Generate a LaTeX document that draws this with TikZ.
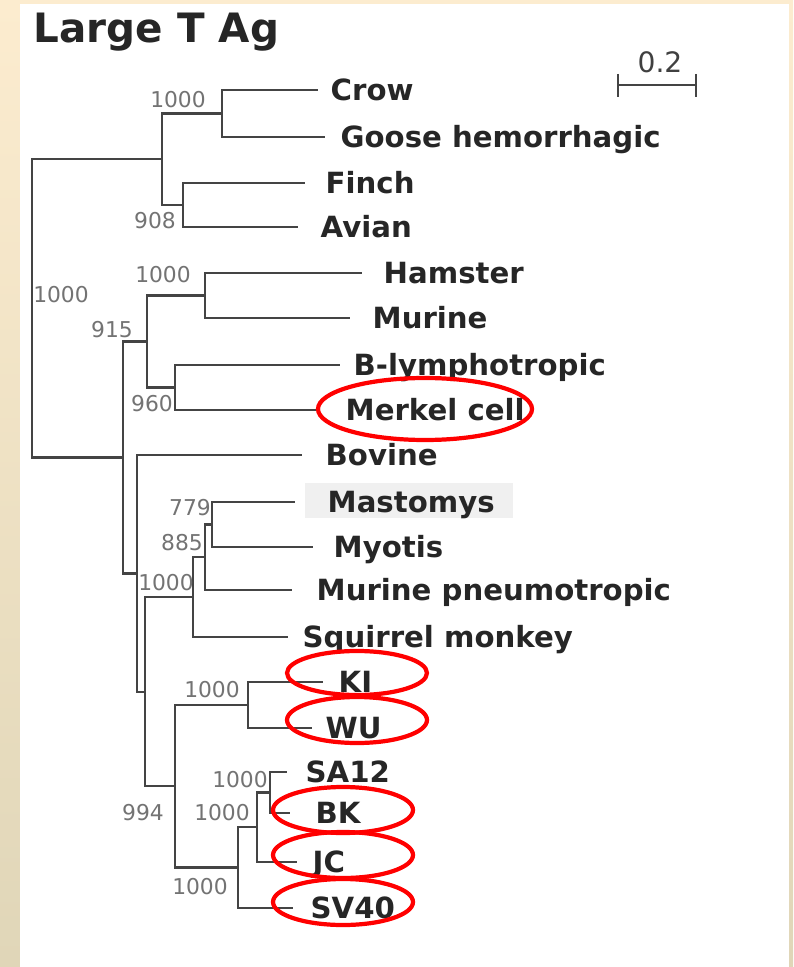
\documentclass[tikz,border=0pt]{standalone}
\usepackage{fontspec}
\setmainfont{DejaVu Sans}
\usepackage{xcolor}
\usepackage{tikz}

\definecolor{bgtop}{RGB}{252,236,207}
\definecolor{bgbot}{RGB}{224,214,184}
\definecolor{branchgray}{RGB}{68,68,68}

\begin{document}
\begin{tikzpicture}[x=0.01cm,y=-0.01cm,
		branch/.style={draw=branchgray,line width=0.65pt},
		taxon/.style={anchor=west,inner xsep={#1*0.1mm},inner ysep=0pt,text height=6pt,text depth=0pt,
			font=\bfseries\fontsize{8.3}{10}\selectfont,text=black!85},
		taxon/.default=15,
		boot/.style={inner sep=0pt,font=\fontsize{6.2}{7}\selectfont,text=black!55},
		ring/.style={draw=red,line width=1.2pt}]
	
	\useasboundingbox (0,0) rectangle (793,967);
	
	% Hintergrund
	\shade[top color=bgtop,bottom color=bgbot] (0,0) rectangle (793,967);
	\fill[white] (20,4) rectangle (789,967);
	\fill[black!6] (305,483) rectangle (513,518);
	
	% Titel und Massstab
	\node[anchor=west,inner sep=0pt,text height=8.4pt,text depth=0pt,
		font=\bfseries\fontsize{11.5}{13}\selectfont,text=black!85] (title) at (33,28) {Large T Ag};
	\coordinate (sbl) at (618,85);
	\coordinate (sbr) at (696,85);
	\draw[branch] (sbl) -- (sbr);
	\draw[branch] (sbl) ++(0,-11) -- ++(0,23);
	\draw[branch] (sbr) ++(0,-11) -- ++(0,23);
	\node[inner sep=0pt,font=\fontsize{8}{9}\selectfont,text=black!75] (scale) at (660,62) {0.2};
	
	% Blaetter
	\node[taxon=12] (crow) at (318,90) {Crow};
	\node[taxon=15] (goose) at (325,137) {Goose hemorrhagic};
	\node[taxon=20] (finch) at (305,183) {Finch};
	\node[taxon=22] (avian) at (298,227) {Avian};
	\node[taxon=21] (hamster) at (362,273) {Hamster};
	\node[taxon=22] (murine) at (350,318) {Murine};
	\node[taxon=13] (blym) at (340,365) {B-lymphotropic};
	\node[taxon=25] (merkel) at (320,410) {Merkel cell};
	\node[taxon=23] (bovine) at (302,455) {Bovine};
	\node[taxon=32] (mastomys) at (295,502) {Mastomys};
	\node[taxon=20] (myotis) at (313,547) {Myotis};
	\node[taxon=24] (murpn) at (292,590) {Murine pneumotropic};
	\node[taxon=14] (squirrel) at (288,637) {Squirrel monkey};
	\node[taxon=15] (ki) at (323,682) {KI};
	\node[taxon=13] (wu) at (312,728) {WU};
	\node[taxon=18] (sa12) at (287,772) {SA12};
	\node[taxon=25] (bk) at (290,813) {BK};
	\node[taxon=15] (jc) at (297,862) {JC};
	\node[taxon=17] (sv40) at (293,908) {SV40};
	
	% innere Knoten
	\coordinate (root) at (32,308.3);
	\coordinate (av) at (162,159.3);
	\coordinate (cg) at (222,113.5);
	\coordinate (fa) at (183,205);
	\coordinate (p915) at (123,457.4);
	\coordinate (hm) at (147,341.5);
	\coordinate (ham) at (205,295.5);
	\coordinate (bm) at (175,387.5);
	\coordinate (lo) at (137,573.4);
	\coordinate (b2) at (145,691.7);
	\coordinate (c1000) at (193,597.1);
	\coordinate (c885) at (205,557.3);
	\coordinate (c779) at (212,524.5);
	\coordinate (d994) at (175,786.3);
	\coordinate (kw) at (248,705);
	\coordinate (e1000) at (238,867.6);
	\coordinate (f1000) at (257,827.3);
	\coordinate (g1000) at (270,792.5);
	
	% Aeste
	\draw[branch] (root) |- (av) (root) |- (p915);
	\draw[branch] (av) |- (cg) (av) |- (fa);
	\draw[branch] (cg) |- (crow) (cg) |- (goose);
	\draw[branch] (fa) |- (finch) (fa) |- (avian);
	\draw[branch] (p915) |- (hm) (p915) |- (lo);
	\draw[branch] (hm) |- (ham) (hm) |- (bm);
	\draw[branch] (ham) |- (hamster) (ham) |- (murine);
	\draw[branch] (bm) |- (blym) (bm) |- (merkel);
	\draw[branch] (lo) |- (bovine) (lo) |- (b2);
	\draw[branch] (b2) |- (c1000) (b2) |- (d994);
	\draw[branch] (c1000) |- (c885) (c1000) |- (squirrel);
	\draw[branch] (c885) |- (c779) (c885) |- (murpn);
	\draw[branch] (c779) |- (mastomys) (c779) |- (myotis);
	\draw[branch] (d994) |- (kw) (d994) |- (e1000);
	\draw[branch] (kw) |- (ki) (kw) |- (wu);
	\draw[branch] (e1000) |- (f1000) (e1000) |- (sv40);
	\draw[branch] (f1000) |- (g1000) (f1000) |- (jc);
	\draw[branch] (g1000) |- (sa12) (g1000) |- (bk);
	
	% Bootstrap-Werte
	\node[boot] (bs1) at (178,100) {1000};
	\node[boot] (bs2) at (155,221) {908};
	\node[boot] (bs3) at (61,295) {1000};
	\node[boot] (bs4) at (163,275) {1000};
	\node[boot] (bs5) at (112,330) {915};
	\node[boot] (bs6) at (152,404) {960};
	\node[boot] (bs7) at (190,508) {779};
	\node[boot] (bs8) at (182,543) {885};
	\node[boot] (bs9) at (166,583) {1000};
	\node[boot] (bs10) at (212,690) {1000};
	\node[boot] (bs11) at (240,780) {1000};
	\node[boot] (bs12) at (143,813) {994};
	\node[boot] (bs13) at (222,813) {1000};
	\node[boot] (bs14) at (200,887) {1000};
	
	% Markierungen
	\draw[ring] (425,409) ellipse (107 and 31);
	\draw[ring] (357,673) ellipse (70 and 22);
	\draw[ring] (357,720) ellipse (70 and 23);
	\draw[ring] (343,810) ellipse (70 and 23);
	\draw[ring] (343,855) ellipse (70 and 23);
	\draw[ring] (343,902) ellipse (70 and 23);
	
\end{tikzpicture}
\end{document}
